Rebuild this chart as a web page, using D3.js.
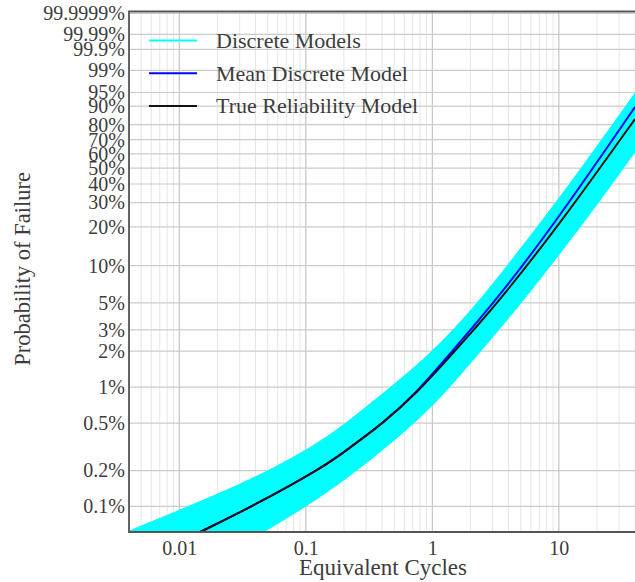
<!DOCTYPE html>
<html>
<head>
<meta charset="utf-8">
<script src="https://cdn.jsdelivr.net/npm/d3@7"></script>
<style>
  body { margin: 0; background: #fff; }
  svg { display: block; font-family: "Liberation Serif", "Times New Roman", serif; }
</style>
</head>
<body>
<svg width="635" height="582"></svg>
<script>
// chart data (x = equivalent cycles, y = % failed)
var xTickValues = [0.01, 0.1, 1, 10];
var xTickLabels = ["0.01", "0.1", "1", "10"];
var yTickValues = [0.1, 0.2, 0.5, 1, 2, 3, 5, 10, 20, 30, 40, 50, 60, 70, 80, 90, 95, 99, 99.9, 99.99, 99.9999];
var yTickLabels = ["0.1%", "0.2%", "0.5%", "1%", "2%", "3%", "5%", "10%", "20%", "30%", "40%", "50%",
                   "60%", "70%", "80%", "90%", "95%", "99%", "99.9%", "99.99%", "99.9999%"];

var bandUpperCycles = [0.004, 0.01254, 0.0421, 0.1415, 0.303, 1.017, 2.38, 3.427, 10.2, 40];
var bandUpperPct    = [0.062, 0.1025, 0.177, 0.360, 0.687, 1.93, 5.27, 8.4, 32.1, 94.8];
var bandLowerCycles = [0.0462, 0.1415, 0.409, 1.017, 2.108, 3.427, 5.92, 18.7, 40];
var bandLowerPct    = [0.061, 0.1245, 0.297, 0.687, 1.70, 3.08, 6.1, 26.5, 61.4];

var meanCycles = [0.0146, 0.0421, 0.1415, 0.210, 0.409, 0.752, 1.379, 3.427, 10.2, 40];
var meanPct    = [0.061, 0.106, 0.218, 0.297, 0.50, 0.90, 1.9, 5.7, 24, 89.6];

var trueCycles = [0.0146, 0.0421, 0.1415, 0.210, 0.409, 0.752, 1.379, 2.244, 3.427, 10.2, 40];
var truePct    = [0.061, 0.106, 0.218, 0.297, 0.50, 0.89, 1.8, 3.2, 5.3, 21, 83.4];

var legendNames  = ["Discrete Models", "Mean Discrete Model", "True Reliability Model"];
var legendColors = ["#00ffff", "#0000ff", "#111111"];

var svg = d3.select("svg");
var plot = {l: 129, r: 635, t: 11.5, b: 532};

// weibull probability paper: y = ln(-ln(1 - F))
function weib(pct) { return Math.log(-Math.log(1 - pct / 100)); }

var xScale = d3.scaleLog().domain([0.004, 40]).range([plot.l, plot.r]);
var yScale = d3.scaleLinear().domain([-7.4017, 2.664]).range([plot.b, plot.t]);

svg.append("clipPath").attr("id", "clip")
   .append("rect")
   .attr("x", plot.l).attr("y", plot.t)
   .attr("width", plot.r - plot.l).attr("height", plot.b - plot.t);

// grid
var gridG = svg.append("g");
gridG.selectAll(".xminor")
     .data(xScale.ticks().filter(function(d) { return xTickValues.indexOf(d) < 0; }))
     .enter().append("line")
     .attr("x1", function(d) { return xScale(d); })
     .attr("x2", function(d) { return xScale(d); })
     .attr("y1", plot.t).attr("y2", plot.b)
     .attr("stroke", "#e6e6e6").attr("stroke-width", 1);
gridG.selectAll(".xmajor")
     .data(xTickValues)
     .enter().append("line")
     .attr("x1", function(d) { return xScale(d); })
     .attr("x2", function(d) { return xScale(d); })
     .attr("y1", plot.t).attr("y2", plot.b)
     .attr("stroke", "#c4c4c4").attr("stroke-width", 1.2);
gridG.selectAll(".ygrid")
     .data(yTickValues)
     .enter().append("line")
     .attr("x1", plot.l).attr("x2", plot.r)
     .attr("y1", function(d) { return yScale(weib(d)); })
     .attr("y2", function(d) { return yScale(weib(d)); })
     .attr("stroke", "#cbcbcb").attr("stroke-width", 1.2);

// data
var dataG = svg.append("g").attr("clip-path", "url(#clip)");

function toPoints(cycles, pct) {
    return cycles.map(function(c, i) { return [xScale(c), yScale(weib(pct[i]))]; });
}

var smooth = d3.line().curve(d3.curveBasis);
var upperPath = smooth(toPoints(bandUpperCycles, bandUpperPct));
var lowerPath = smooth(toPoints(bandLowerCycles, bandLowerPct).reverse());
dataG.append("path")
     .attr("d", upperPath + "L" + lowerPath.slice(1) + "Z")
     .attr("fill", "#00ffff").attr("stroke", "#00ffff").attr("stroke-width", 1);

dataG.append("path")
     .attr("d", smooth(toPoints(meanCycles, meanPct)))
     .attr("fill", "none").attr("stroke", "#0000ff").attr("stroke-width", 2);
dataG.append("path")
     .attr("d", smooth(toPoints(trueCycles, truePct)))
     .attr("fill", "none").attr("stroke", "#111111").attr("stroke-width", 2);

// axes
var xAxis = svg.append("g")
    .attr("transform", "translate(0," + plot.b + ")")
    .call(d3.axisBottom(xScale).tickValues(xTickValues)
            .tickFormat(function(d, i) { return xTickLabels[i]; })
            .tickSize(0).tickPadding(9));
var yAxis = svg.append("g")
    .attr("transform", "translate(" + plot.l + ",0)")
    .call(d3.axisLeft(yScale).tickValues(yTickValues.map(weib))
            .tickFormat(function(d, i) { return yTickLabels[i]; })
            .tickSize(0).tickPadding(4));
[xAxis, yAxis].forEach(function(ax) {
    ax.select(".domain").remove();
    ax.selectAll("text")
      .attr("font-family", "Liberation Serif, Times New Roman, serif")
      .attr("font-size", 20).attr("fill", "#3c3c3c");
});

// spines
svg.append("path")
   .attr("d", "M" + plot.r + "," + plot.t + "H" + plot.l + "V" + plot.b + "H" + plot.r)
   .attr("fill", "none").attr("stroke", "#555").attr("stroke-width", 1.8);

// axis titles
svg.append("text")
   .attr("x", (plot.l + plot.r) / 2 + 1).attr("y", 575)
   .attr("text-anchor", "middle").attr("font-size", 23).attr("fill", "#3c3c3c")
   .text("Equivalent Cycles");
svg.append("text")
   .attr("transform", "translate(30," + 269 + ") rotate(-90)")
   .attr("text-anchor", "middle").attr("font-size", 22.5).attr("fill", "#3c3c3c")
   .text("Probability of Failure");

// legend
var legend = svg.append("g")
    .selectAll("g").data(legendNames).enter().append("g")
    .attr("transform", function(d, i) { return "translate(149," + (40.5 + i * 32.8) + ")"; });
legend.append("line")
      .attr("x1", 0).attr("x2", 48)
      .attr("stroke", function(d, i) { return legendColors[i]; })
      .attr("stroke-width", 2);
legend.append("text")
      .attr("x", 67).attr("dy", "0.33em")
      .attr("font-size", 22).attr("fill", "#3c3c3c")
      .text(function(d) { return d; });
</script>
</body>
</html>
